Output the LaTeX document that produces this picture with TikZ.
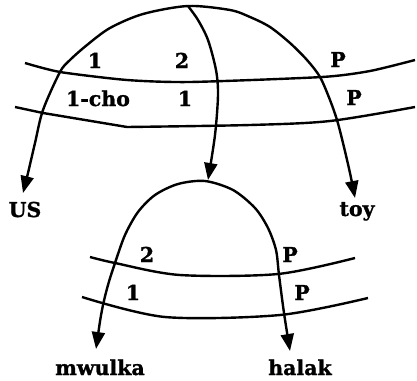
\documentclass[tikz,border=0pt]{standalone}
\usepackage{fontspec}
\setmainfont{DejaVu Serif}
\newfontfamily\lblfont{DejaVu Serif Bold}[FakeBold=1.2]
\usetikzlibrary{arrows.meta}
\begin{document}
\begin{tikzpicture}[x=1pt,y=-1pt, line width=2.4pt,
  lbl/.style={font=\fontsize{20.5}{25}\lblfont, inner sep=0pt, anchor=base},
  arr/.style={-{Triangle[length=17pt,width=13pt]}},
  arr2/.style={{Triangle[length=17pt,width=13pt]}-{Triangle[length=17pt,width=13pt]}},
  rel/.style={line width=2.4pt}]
\useasboundingbox (0,0) rectangle (417,380);
% labels / end nodes
\node[lbl] (us) at (25,217) {US};
\node[lbl] (toy) at (357,216) {toy};
\node[lbl] (mw) at (100,375) {mwulka};
\node[lbl] (ha) at (300,375) {halak};
\node[lbl] (a1) at (95,68) {1};
\node[lbl] (a2) at (182,68) {2};
\node[lbl] (aP) at (338,67) {P};
\node[lbl] (b1) at (98,106) {1-cho};
\node[lbl] (b2) at (185,106) {1};
\node[lbl] (bP) at (354,105) {P};
\node[lbl] (c2) at (147,262) {2};
\node[lbl] (cP) at (290,262) {P};
\node[lbl] (d1) at (133,300) {1};
\node[lbl] (dP) at (302,300) {P};
% key points
\coordinate (topapex) at (188,6);
\coordinate (botapex) at (205,181);
\coordinate (tipUS) at (23,193);
\coordinate (tipToy) at (355,198);
\coordinate (tipMid) at (208,180);
\coordinate (tipMw) at (96,349);
\coordinate (tipHa) at (290,351);
% top arc (root at topapex, branches to US and toy)
\draw[arr2] plot[smooth] coordinates {(tipUS) (28,173) (35,143) (43,110) (60,72) (70,60) (87,45) (110,28) (143,14) (topapex) (230,10) (250,17) (270,27) (290,43) (307,60) (320,77) (330,100) (337,120) (343,143) (350,173) (tipToy)};
% middle branch
\draw[arr] plot[smooth] coordinates {(topapex) (198,20) (208,40) (216,70) (218,95) (215,135) (tipMid)};
% top lines
\draw[rel] plot[smooth, tension=0.4] coordinates {(25,63) (60,72) (127,80) (190,82) (322,77) (370,71) (415,60)};
\draw[rel] (15,107) -- (43,113) -- (127,127) plot[smooth, tension=0.5] coordinates {(127,127) (250,125) (330,121) (415,107)};
% bottom arc
\draw[arr2] plot[smooth] coordinates {(tipMw) (102,310) (108,285) (115,263) (125,235) (138,212) (155,195) (178,184) (botapex) (233,190) (255,208) (268,228) (276,250) (279,275) (284,313) (tipHa)};
% bottom lines
\draw[rel] plot[smooth, tension=0.5] coordinates {(90,257) (115,263) (180,275) (278,274) (355,258)};
\draw[rel] plot[smooth, tension=0.5] coordinates {(82,297) (165,317) (280,315) (368,298)};
\end{tikzpicture}
\end{document}
